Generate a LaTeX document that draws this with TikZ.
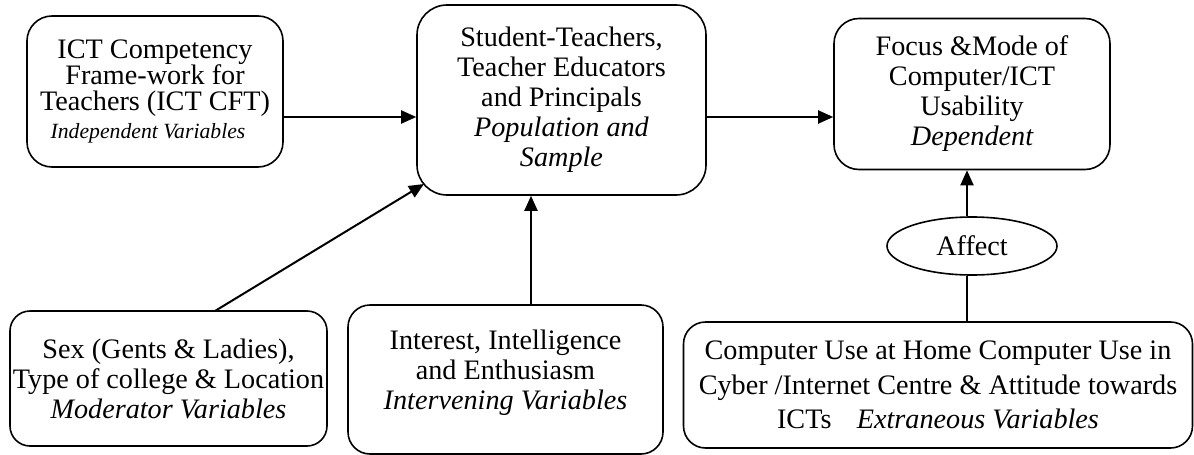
\documentclass[tikz,border=0pt]{standalone}
\usepackage{fontspec}
\setmainfont{Liberation Serif}
\usetikzlibrary{arrows.meta,shapes.geometric}
\begin{document}
\begin{tikzpicture}[x=1pt,y=-1pt,
  box/.style={draw,line width=1.6pt,rectangle,align=center,inner sep=0pt,
    font=\fontsize{28.2}{30}\selectfont},
  oval/.style={draw,line width=1.6pt,ellipse,inner sep=0pt,
    font=\fontsize{28.2}{30}\selectfont},
  arr/.style={line width=2pt,-{Triangle[length=15pt,width=13pt]}},
  plain/.style={line width=2pt}]
\useasboundingbox (0,0) rectangle (1194,455);
\node[box,rounded corners=25pt,minimum width=256pt,minimum height=151pt,
  font=\fontsize{28.2}{26}\selectfont] (A) at (155,91.5)
  {ICT Competency\\Frame-work for\\Teachers (ICT CFT)\\[2pt]
   {\itshape\fontsize{21.7}{26}\selectfont Independent Variables}\hspace*{14pt}};
\node[box,rounded corners=30pt,minimum width=289pt,minimum height=190pt] (B) at (561.5,100)
  {Student-Teachers,\\Teacher Educators\\and Principals\\
   \itshape Population and\\\itshape Sample};
\node[box,rounded corners=25pt,minimum width=276pt,minimum height=151pt] (C) at (972,94)
  {Focus \&Mode of\\Computer/ICT\\Usability\\\itshape Dependent};
\node[box,rounded corners=20pt,minimum width=317pt,minimum height=135pt] (D) at (168.5,378.5)
  {Sex (Gents \& Ladies),\\Type of college \& Location\\\itshape Moderator Variables};
\node[box,rounded corners=22pt,minimum width=315pt,minimum height=149pt] (E) at (505.5,379.5)
  {Interest, Intelligence\\and Enthusiasm\\\itshape Intervening Variables\\[-10pt]\mbox{}};
\node[box,rounded corners=22pt,minimum width=509pt,minimum height=126pt,
  font=\fontsize{28.2}{34.5}\selectfont] (F) at (938,385)
  {Computer Use at Home Computer Use in\\Cyber /Internet Centre \& Attitude towards\\
   ICTs\hspace{0.9em}\textit{Extraneous Variables}};
\node[oval,minimum width=170pt,minimum height=58pt] (Af) at (972,246) {Affect};
\coordinate (yab) at (0,117);
\coordinate (vx) at (531,0);
\coordinate (ax) at (967,0);
\coordinate (ds) at (215,311);
\coordinate (dt) at (424,184);
\draw[arr] (A.east |- yab) -- (B.west |- yab);
\draw[arr] (B.east |- yab) -- (C.west |- yab);
\draw[arr] (ds) -- (dt);
\draw[arr] (E.north -| vx) -- (B.south -| vx);
\draw[arr] (Af.north -| ax) -- (C.south -| ax);
\draw[plain] (F.north -| ax) -- (Af.south -| ax);
\end{tikzpicture}
\end{document}
